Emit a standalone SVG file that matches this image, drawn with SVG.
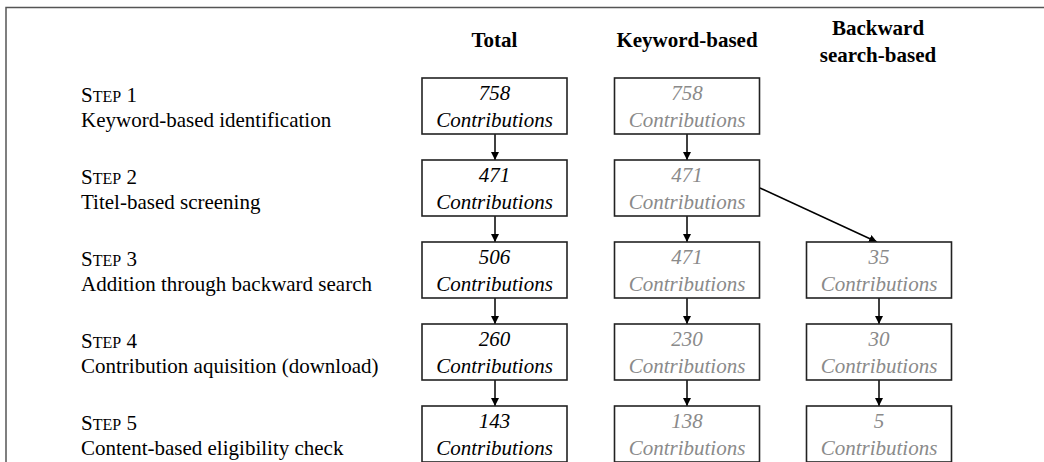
<svg xmlns="http://www.w3.org/2000/svg" width="1044" height="462" viewBox="0 0 1044 462">
<defs>
<marker id="ah" viewBox="0 0 10 10" refX="10" refY="5" markerWidth="8" markerHeight="8" markerUnits="userSpaceOnUse" orient="auto">
<path d="M0,0 L10,5 L0,10 z" fill="#000"/>
</marker>
</defs>
<style>
.frame{fill:none;stroke:#555;stroke-width:1.5}
.box{fill:#fff;stroke:#222;stroke-width:1.6}
.hdr{font-family:"Liberation Serif","Times New Roman",serif;font-weight:bold;font-size:21px;fill:#000;text-anchor:middle}
.step{font-family:"Liberation Serif","Times New Roman",serif;font-size:21px;fill:#000}
.sc{font-size:16px}
.t{font-family:"Liberation Serif","Times New Roman",serif;font-style:italic;font-size:21px;text-anchor:middle}
.blk{fill:#000}
.gry{fill:#8a8a8a}
.con{stroke:#000;stroke-width:1.5;fill:none;marker-end:url(#ah)}
</style>
<rect class="frame" x="6" y="7.5" width="1060" height="480"/>
<g id="headers">
<text class="hdr" x="494.5" y="46.5">Total</text>
<text class="hdr" x="687" y="46.5">Keyword-based</text>
<text class="hdr" x="878" y="34.5">Backward</text>
<text class="hdr" x="878" y="61.5">search-based</text>
</g>
<g id="steps">
<text class="step" x="81" y="101.5">S<tspan class="sc">TEP</tspan> 1</text>
<text class="step" x="81" y="126.5">Keyword-based identification</text>
<text class="step" x="81" y="183.5">S<tspan class="sc">TEP</tspan> 2</text>
<text class="step" x="81" y="208.5">Titel-based screening</text>
<text class="step" x="81" y="265.5">S<tspan class="sc">TEP</tspan> 3</text>
<text class="step" x="81" y="290.5">Addition through backward search</text>
<text class="step" x="81" y="347.5">S<tspan class="sc">TEP</tspan> 4</text>
<text class="step" x="81" y="372.5">Contribution aquisition (download)</text>
<text class="step" x="81" y="429.5">S<tspan class="sc">TEP</tspan> 5</text>
<text class="step" x="81" y="454.5">Content-based eligibility check</text>
</g>
<g id="connectors">
<line class="con" x1="495" y1="134" x2="495" y2="160"/>
<line class="con" x1="495" y1="216" x2="495" y2="242"/>
<line class="con" x1="495" y1="298" x2="495" y2="324"/>
<line class="con" x1="495" y1="380" x2="495" y2="406"/>
<line class="con" x1="687" y1="134" x2="687" y2="160"/>
<line class="con" x1="687" y1="216" x2="687" y2="242"/>
<line class="con" x1="687" y1="298" x2="687" y2="324"/>
<line class="con" x1="687" y1="380" x2="687" y2="406"/>
<line class="con" x1="760" y1="188" x2="877" y2="242"/>
<line class="con" x1="879" y1="298" x2="879" y2="324"/>
<line class="con" x1="879" y1="380" x2="879" y2="406"/>
</g>
<g id="t1"><rect class="box" x="422" y="78" width="145" height="56"/><text class="t blk" x="494.5" y="100">758</text><text class="t blk" x="494.5" y="126.5">Contributions</text></g>
<g id="t2"><rect class="box" x="422" y="160" width="145" height="56"/><text class="t blk" x="494.5" y="182">471</text><text class="t blk" x="494.5" y="208.5">Contributions</text></g>
<g id="t3"><rect class="box" x="422" y="242" width="145" height="56"/><text class="t blk" x="494.5" y="264">506</text><text class="t blk" x="494.5" y="290.5">Contributions</text></g>
<g id="t4"><rect class="box" x="422" y="324" width="145" height="56"/><text class="t blk" x="494.5" y="346">260</text><text class="t blk" x="494.5" y="372.5">Contributions</text></g>
<g id="t5"><rect class="box" x="422" y="406" width="145" height="56"/><text class="t blk" x="494.5" y="428">143</text><text class="t blk" x="494.5" y="454.5">Contributions</text></g>
<g id="k1"><rect class="box" x="614.5" y="78" width="145" height="56"/><text class="t gry" x="687" y="100">758</text><text class="t gry" x="687" y="126.5">Contributions</text></g>
<g id="k2"><rect class="box" x="614.5" y="160" width="145" height="56"/><text class="t gry" x="687" y="182">471</text><text class="t gry" x="687" y="208.5">Contributions</text></g>
<g id="k3"><rect class="box" x="614.5" y="242" width="145" height="56"/><text class="t gry" x="687" y="264">471</text><text class="t gry" x="687" y="290.5">Contributions</text></g>
<g id="k4"><rect class="box" x="614.5" y="324" width="145" height="56"/><text class="t gry" x="687" y="346">230</text><text class="t gry" x="687" y="372.5">Contributions</text></g>
<g id="k5"><rect class="box" x="614.5" y="406" width="145" height="56"/><text class="t gry" x="687" y="428">138</text><text class="t gry" x="687" y="454.5">Contributions</text></g>
<g id="b3"><rect class="box" x="806.5" y="242" width="145" height="56"/><text class="t gry" x="879" y="264">35</text><text class="t gry" x="879" y="290.5">Contributions</text></g>
<g id="b4"><rect class="box" x="806.5" y="324" width="145" height="56"/><text class="t gry" x="879" y="346">30</text><text class="t gry" x="879" y="372.5">Contributions</text></g>
<g id="b5"><rect class="box" x="806.5" y="406" width="145" height="56"/><text class="t gry" x="879" y="428">5</text><text class="t gry" x="879" y="454.5">Contributions</text></g>
</svg>
